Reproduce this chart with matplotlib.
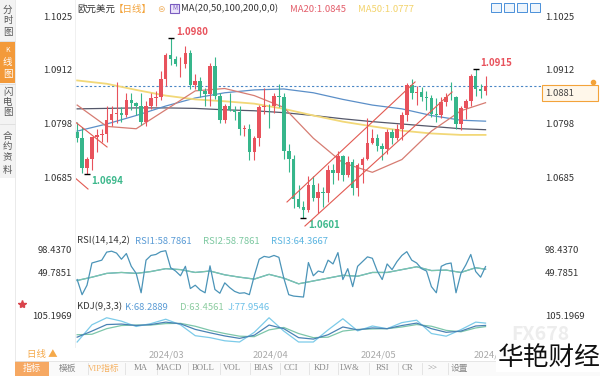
import matplotlib
matplotlib.use('Agg')
import matplotlib.pyplot as plt
from matplotlib.patches import Rectangle
from matplotlib.transforms import blended_transform_factory

plt.rcParams['font.family'] = ['Noto Sans CJK SC', 'DejaVu Sans']

# 欧元美元 日线  2024-02-12 .. 2024-06-06
opens = [1.0784, 1.0771, 1.0708, 1.0727, 1.0773, 1.0777, 1.0778, 1.0808, 1.0821, 1.0823,
         1.0820, 1.0850, 1.0844, 1.0838, 1.0804, 1.0838, 1.0855, 1.0856, 1.0895, 1.0946,
         1.0938, 1.0926, 1.0926, 1.0949, 1.0883, 1.0890, 1.0869, 1.0864, 1.0922, 1.0860,
         1.0808, 1.0838, 1.0830, 1.0826, 1.0790, 1.0790, 1.0741, 1.0771, 1.0836, 1.0838,
         1.0837, 1.0860, 1.0857, 1.0743, 1.0727, 1.0642, 1.0624, 1.0618, 1.0672, 1.0644,
         1.0656, 1.0654, 1.0703, 1.0697, 1.0733, 1.0693, 1.0720, 1.0665, 1.0713, 1.0727,
         1.0760, 1.0770, 1.0753, 1.0748, 1.0783, 1.0771, 1.0789, 1.0820, 1.0883, 1.0865,
         1.0868, 1.0857, 1.0855, 1.0822, 1.0819, 1.0846, 1.0858, 1.0857, 1.0800, 1.0833,
         1.0848, 1.0902, 1.0875, 1.0870]
highs = [1.0805, 1.0794, 1.0731, 1.0771, 1.0789, 1.0789, 1.0839, 1.0839, 1.0888, 1.0835,
         1.0865, 1.0865, 1.0847, 1.0866, 1.0848, 1.0865, 1.0870, 1.0912, 1.0950, 1.0981,
         1.0944, 1.0941, 1.0964, 1.0957, 1.0905, 1.0900, 1.0876, 1.0928, 1.0942, 1.0866,
         1.0842, 1.0865, 1.0839, 1.0838, 1.0797, 1.0800, 1.0775, 1.0840, 1.0876, 1.0842,
         1.0865, 1.0885, 1.0865, 1.0757, 1.0734, 1.0671, 1.0637, 1.0690, 1.0690, 1.0675,
         1.0668, 1.0713, 1.0716, 1.0742, 1.0734, 1.0733, 1.0726, 1.0717, 1.0731, 1.0812,
         1.0790, 1.0779, 1.0760, 1.0790, 1.0790, 1.0799, 1.0825, 1.0887, 1.0895, 1.0880,
         1.0878, 1.0870, 1.0861, 1.0854, 1.0858, 1.0865, 1.0889, 1.0860, 1.0838, 1.0853,
         1.0905, 1.0916, 1.0884, 1.0902]
lows = [1.0762, 1.0696, 1.0694, 1.0702, 1.0740, 1.0761, 1.0762, 1.0795, 1.0802, 1.0805,
        1.0815, 1.0830, 1.0820, 1.0797, 1.0795, 1.0831, 1.0838, 1.0851, 1.0880, 1.0925,
        1.0922, 1.0900, 1.0919, 1.0873, 1.0875, 1.0858, 1.0837, 1.0838, 1.0852, 1.0802,
        1.0803, 1.0827, 1.0808, 1.0776, 1.0774, 1.0724, 1.0724, 1.0754, 1.0821, 1.0791,
        1.0823, 1.0836, 1.0727, 1.0698, 1.0622, 1.0622, 1.0601, 1.0615, 1.0638, 1.0611,
        1.0624, 1.0635, 1.0674, 1.0682, 1.0679, 1.0688, 1.0650, 1.0649, 1.0676, 1.0724,
        1.0757, 1.0743, 1.0725, 1.0736, 1.0758, 1.0766, 1.0766, 1.0806, 1.0853, 1.0840,
        1.0848, 1.0829, 1.0815, 1.0805, 1.0812, 1.0839, 1.0851, 1.0789, 1.0788, 1.0811,
        1.0838, 1.0860, 1.0855, 1.0862]
closes = [1.0771, 1.0708, 1.0727, 1.0773, 1.0777, 1.0778, 1.0808, 1.0821, 1.0823, 1.0820,
          1.0850, 1.0844, 1.0838, 1.0804, 1.0838, 1.0855, 1.0856, 1.0895, 1.0946, 1.0938,
          1.0926, 1.0926, 1.0949, 1.0883, 1.0890, 1.0869, 1.0864, 1.0922, 1.0860, 1.0808,
          1.0838, 1.0830, 1.0826, 1.0790, 1.0790, 1.0741, 1.0771, 1.0836, 1.0838, 1.0837,
          1.0860, 1.0857, 1.0743, 1.0727, 1.0642, 1.0624, 1.0618, 1.0672, 1.0644, 1.0656,
          1.0654, 1.0703, 1.0697, 1.0733, 1.0693, 1.0720, 1.0665, 1.0713, 1.0727, 1.0760,
          1.0770, 1.0753, 1.0748, 1.0783, 1.0771, 1.0789, 1.0820, 1.0883, 1.0865, 1.0868,
          1.0857, 1.0855, 1.0822, 1.0819, 1.0846, 1.0858, 1.0857, 1.0800, 1.0833, 1.0848,
          1.0902, 1.0875, 1.0870, 1.0881]

# 均线 (读图取样)
ma_idx = [0, 6, 12, 18, 24, 30, 36, 42, 48, 54, 60, 66, 72, 78, 83]
ma20 = [1.0840, 1.0795, 1.0790, 1.0830, 1.0870, 1.0875, 1.0860, 1.0835, 1.0770, 1.0718,
        1.0698, 1.0725, 1.0785, 1.0828, 1.0845]
ma50 = [1.0892, 1.0885, 1.0872, 1.0860, 1.0852, 1.0848, 1.0843, 1.0832, 1.0818, 1.0805,
        1.0795, 1.0786, 1.0780, 1.0777, 1.0777]
ma100 = [1.0785, 1.0800, 1.0818, 1.0838, 1.0855, 1.0866, 1.0872, 1.0874, 1.0866, 1.0852,
         1.0840, 1.0832, 1.0818, 1.0808, 1.0806]
ma200 = [1.0832, 1.0833, 1.0834, 1.0834, 1.0833, 1.0830, 1.0828, 1.0824, 1.0818, 1.0811,
         1.0805, 1.0800, 1.0795, 1.0790, 1.0788]

# 画线 (index, price)
trend_lines = [
    [(-0.64, 1.08064), (6.07, 1.07515)],
    [(-0.64, 1.06881), (2.2, 1.06627)],
    [(42.65, 1.06353), (68.67, 1.08888)],
    [(46.3, 1.05846), (76.2, 1.08676)],
]

price_ticks = [1.1025, 1.0912, 1.0798, 1.0685]
last_price = 1.0881

# RSI
rsi3 = [37, 5, 25, 72, 75, 78, 95, 97, 93, 80, 92, 65, 50, 9, 78, 88, 90, 96, 98, 62,
        55, 45, 65, 18, 25, 15, 9, 66, 16, 8, 30, 20, 12, 8, 9, 5, 45, 80, 86, 84,
        88, 84, 40, 5, 2, 1, 0, 73, 45, 55, 52, 78, 70, 94, 37, 60, 22, 65, 75, 85,
        82, 55, 37, 70, 58, 75, 88, 96, 78, 72, 60, 55, 22, 9, 65, 70, 72, 9, 50, 68,
        90, 54, 42, 64.4]
rsi_idx = [0, 3, 6, 9, 12, 15, 18, 21, 24, 27, 30, 33, 36, 39, 42, 45, 48, 51, 54, 57,
           60, 63, 66, 69, 72, 75, 78, 81, 83]
rsi14 = [35, 42, 50, 52, 50, 54, 60, 58, 52, 55, 47, 42, 38, 48, 40, 28, 34, 40, 46, 44,
         52, 52, 58, 64, 56, 57, 52, 62, 58.8]
rsi_ticks = [98.4370, 49.7851]

# KDJ
kdj_idx = rsi_idx
k_vals = [20, 45, 72, 74, 68, 72, 82, 75, 52, 38, 25, 15, 28, 70, 55, 18, 12, 30, 62, 50,
          58, 55, 68, 78, 55, 40, 45, 66, 68.3]
d_vals = [30, 32, 55, 68, 70, 70, 76, 77, 65, 48, 35, 24, 22, 50, 60, 35, 18, 20, 45, 52,
          54, 55, 62, 72, 65, 48, 42, 58, 63.5]
j_vals = [0, 71, 100, 86, 64, 76, 94, 71, 26, 18, 5, 0, 40, 100, 45, 0, 0, 50, 96, 46,
          66, 55, 80, 90, 35, 24, 51, 82, 78]
kdj_tick = 105.1969

month_idx = [14, 35, 57, 80]
month_labels = ['2024/03', '2024/04', '2024/05', '2024/06']

UP = '#e8525c'
DOWN = '#36b68b'

fig = plt.figure(figsize=(6, 3.76), dpi=100)


def px_rect(l, t, r, b):
    return [l / 600, 1 - b / 376, (r - l) / 600, (b - t) / 376]


ax = fig.add_axes(px_rect(76, 3, 497, 233))
ax_rsi = fig.add_axes(px_rect(76, 236, 497, 300))
ax_kdj = fig.add_axes(px_rect(76, 302, 497, 347))
for a in (ax, ax_rsi, ax_kdj):
    a.set_xlim(-0.236, 85.33)
    a.axis('off')
ax.set_ylim(1.05698, 1.10556)
ax_rsi.set_ylim(-6.27, 129.11)
ax_kdj.set_ylim(-20.6, 165.0)

# K线
n = len(closes)
idx = list(range(n))
cols = [UP if c >= o else DOWN for o, c in zip(opens, closes)]
ax.vlines(idx, lows, highs, colors=cols, lw=0.8, zorder=3)
bodies = [max(abs(c - o), 0.00006) for o, c in zip(opens, closes)]
ax.bar(idx, bodies, bottom=[min(o, c) for o, c in zip(opens, closes)],
       width=0.72, color=cols, zorder=4)

ax.plot(ma_idx, ma200, color='#55586a', lw=0.9, zorder=2)
ax.plot(ma_idx, ma100, color='#5b8fc8', lw=0.9, zorder=2)
ax.plot(ma_idx, ma50, color='#f2d878', lw=1.3, zorder=2)
ax.plot(ma_idx, ma20, color='#d67c72', lw=0.9, zorder=2)

for seg in trend_lines:
    ax.plot([seg[0][0], seg[1][0]], [seg[0][1], seg[1][1]], color='#e25a52', lw=0.8, zorder=5)

ax.axhline(last_price, xmin=0, xmax=(542 - 76) / 421, ls=(0, (2, 2)), color='#4a86c5',
           lw=0.8, clip_on=False, zorder=1)

# 高低点标注
ax.plot([19, 81], [highs[19], highs[81]], marker='_', ms=4, color='k', ls='none', zorder=6)
ax.plot([2, 46], [lows[2], lows[46]], marker='_', ms=4, color='k', ls='none', zorder=6)
ax.annotate('1.0980', (19, highs[19]), xytext=(4.3, 4.3), textcoords='offset points',
            color=UP, fontsize=7, ha='left', va='center', fontweight='bold')
ax.annotate('1.0915', (81, highs[81]), xytext=(3.5, 4.5), textcoords='offset points',
            color=UP, fontsize=7, ha='left', va='center', fontweight='bold')
ax.annotate('1.0694', (2, lows[2]), xytext=(3, -5), textcoords='offset points',
            color='#3db88c', fontsize=7, ha='left', va='center', fontweight='bold')
ax.annotate('1.0601', (46, lows[46]), xytext=(3.5, -5), textcoords='offset points',
            color='#3db88c', fontsize=7, ha='left', va='center', fontweight='bold')

tr_l = blended_transform_factory(fig.transFigure, ax.transData)
for p in price_ticks:
    fig.text(72 / 600, p, f'{p:.4f}', transform=tr_l, ha='right', va='center',
             fontsize=6.8, color='#333333')
    fig.text(545 / 600, p, f'{p:.4f}', transform=tr_l, ha='left', va='center',
             fontsize=6.8, color='#333333')

# RSI
ax_rsi.plot(rsi_idx, rsi14, color='#5a9bd5', lw=0.9)
ax_rsi.plot(rsi_idx, rsi14, color='#7cc6aa', lw=0.9)
ax_rsi.plot(idx, rsi3, color='#4b94b8', lw=0.9)
tr_r = blended_transform_factory(fig.transFigure, ax_rsi.transData)
for v in rsi_ticks:
    fig.text(72 / 600, v, f'{v:.4f}', transform=tr_r, ha='right', va='center',
             fontsize=6.8, color='#333333')
    fig.text(545 / 600, v, f'{v:.4f}', transform=tr_r, ha='left', va='center',
             fontsize=6.8, color='#333333')

# KDJ
ax_kdj.plot(kdj_idx, d_vals, color='#7cc6aa', lw=0.9)
ax_kdj.plot(kdj_idx, j_vals, color='#7ccbe9', lw=0.9)
ax_kdj.plot(kdj_idx, k_vals, color='#4a82b4', lw=0.9)
tr_k = blended_transform_factory(fig.transFigure, ax_kdj.transData)
fig.text(72 / 600, kdj_tick, f'{kdj_tick:.4f}', transform=tr_k, ha='right', va='center',
         fontsize=6.8, color='#333333')
fig.text(545 / 600, kdj_tick, f'{kdj_tick:.4f}', transform=tr_k, ha='left', va='center',
         fontsize=6.8, color='#333333')

# 日期
tr_d = blended_transform_factory(ax_kdj.transData, fig.transFigure)
for m, lab in zip(month_idx, month_labels):
    fig.text(m + 0.6, 1 - 355 / 376, lab, transform=tr_d, ha='left', va='center',
             fontsize=6.8, color='#aaaaaa')

# 界面 overlay
ov = fig.add_axes([0, 0, 1, 1], zorder=10)
ov.set_xlim(0, 600)
ov.set_ylim(376, 0)
ov.axis('off')

ov.add_patch(Rectangle((0, 0), 15, 178, fc='#f3f3f3', ec='none'))
ov.add_patch(Rectangle((0, 42), 15, 41, fc='#f39a3a', ec='none'))
for y0 in (41, 84, 124):
    ov.plot([0, 15], [y0, y0], color='#dddddd', lw=0.6)
ov.plot([15, 15], [0, 360], color='#e6e6e6', lw=0.6)
ov.plot([75, 75], [0, 347], color='#eeeeee', lw=0.6)
side = [('分', 10), ('时', 21), ('图', 32), ('K', 50), ('线', 62), ('图', 74),
        ('闪', 92), ('电', 102), ('图', 113), ('合', 136), ('约', 147), ('资', 158), ('料', 170)]
for ch, y in side:
    c = 'white' if 45 < y < 80 else '#555555'
    ov.text(7.5, y, ch, ha='center', va='center', fontsize=6.8 if ch != 'K' else 5, color=c)
ov.plot([22], [304], marker='*', ms=6, color='#d9434b')

# 标题行
ov.text(77, 9, '欧元美元', fontsize=6.8, va='center', color='#333333')
ov.text(114, 9, '【日线】', fontsize=6.8, va='center', color='#f3a33a')
ov.text(157, 9, '⊜', fontsize=6.5, va='center', color='#f0b060')
ov.add_patch(Rectangle((170, 4), 9, 9, fc='#ece4fb', ec='#7a5cc0', lw=0.8))
ov.text(174.5, 8.5, 'M', fontsize=4.5, ha='center', va='center', color='#7a5cc0')
ov.text(181, 9, 'MA(20,50,100,200,0,0)', fontsize=6.8, va='center', color='#333333')
ov.text(290, 9, 'MA20:1.0845', fontsize=6.8, va='center', color='#e35d6a')
ov.text(358, 9, 'MA50:1.0777', fontsize=6.8, va='center', color='#f3d36b')
for x0 in (491, 504, 517, 530):
    ov.add_patch(Rectangle((x0, 3), 10, 9, fc='#eef5fc', ec='#4a90d9', lw=0.7))

ov.text(77, 241, 'RSI(14,14,2)', fontsize=6.8, va='center', color='#333333')
ov.text(135, 241, 'RSI1:58.7861', fontsize=6.8, va='center', color='#5a9bd5')
ov.text(203, 241, 'RSI2:58.7861', fontsize=6.8, va='center', color='#7cc8a0')
ov.text(271, 241, 'RSI3:64.3667', fontsize=6.8, va='center', color='#5ab4e0')

ov.text(77, 307, 'KDJ(9,3,3)', fontsize=6.8, va='center', color='#333333')
ov.text(125, 307, 'K:68.2889', fontsize=6.8, va='center', color='#5a9bd5')
ov.text(180, 307, 'D:63.4561', fontsize=6.8, va='center', color='#8ccca0')
ov.text(228, 307, 'J:77.9546', fontsize=6.8, va='center', color='#6cc0e8')

# 现价框
ov.add_patch(Rectangle((542, 85), 56, 16, fc='#fff7ea', ec='#f3a33a', lw=0.8))
ov.text(545, 93, '1.0881', fontsize=6.8, va='center', color='#444444')
ov.plot([593], [82], marker='o', ms=3, color='#f3a33a')

# 底部
ov.text(27, 355, '日线 ▲', fontsize=6.8, va='center', color='#f5a94a')
ov.add_patch(Rectangle((15, 361), 600, 15, fc='#fafafa', ec='none'))
ov.plot([15, 600], [361, 361], color='#e3e3e3', lw=0.6)
ov.add_patch(Rectangle((15, 361), 34, 15, fc='#f6a862', ec='none'))
ov.text(32, 368.5, '指标', fontsize=6.5, ha='center', va='center', color='white')
tool_items = ['模板', 'VIP指标', 'MA', 'MACD', 'BOLL', 'VOL', 'BIAS', 'CCI', 'KDJ', 'LW&',
              'RSI', 'CR', '>>', '设置']
tool_x = [68, 104, 141, 169, 203, 232, 264, 291, 322, 350, 383, 408, 432, 459]
for name, x in zip(tool_items, tool_x):
    c = '#f5b060' if name == 'VIP指标' else '#888888'
    ov.text(x, 368.5, name, fontsize=6.3, ha='center', va='center', color=c,
            family=['Liberation Serif', 'Noto Sans CJK SC'])
for a, b in zip(tool_x[:-1], tool_x[1:]):
    ov.plot([(a + b) / 2 + 2, (a + b) / 2 + 2], [363, 374], color='#e0e0e0', lw=0.6)

ov.text(540, 334, 'FX678', fontsize=14, ha='center', va='center', color='#ededed',
        fontweight='bold')
ov.text(549, 358, '华艳财经', fontsize=18.5, ha='center', va='center', color='#111111',
        fontweight='light', bbox=dict(fc='white', ec='none', pad=1))

fig.savefig('out.png', dpi=100, facecolor='white')
